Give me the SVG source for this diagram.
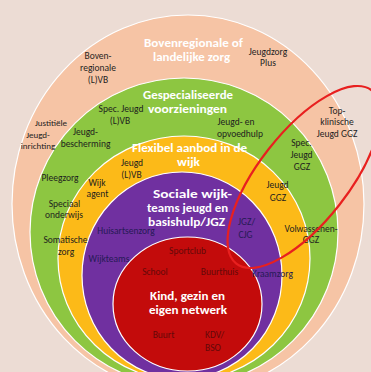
<svg xmlns="http://www.w3.org/2000/svg" width="371" height="372" viewBox="0 0 371 372">
<style>
.ring{stroke:#ffffff;stroke-width:1.2}
.t{font-family:Carlito,Lato,"Liberation Sans",sans-serif;font-weight:700;font-size:12.5px;fill:#ffffff;text-anchor:middle}
.l{font-family:Carlito,Lato,"Liberation Sans",sans-serif;font-size:9.5px;fill:#1e1e1e;text-anchor:middle}
.lp{fill:#261a55}
.lr{fill:#640909}
</style>
<rect x="0" y="0" width="371" height="372" fill="#ECDCD4"/>
<g id="ring-bovenregionaal">
<ellipse class="ring" cx="188" cy="204" rx="176" ry="189" fill="#F6C4A5"/>
</g>
<g id="ring-gespecialiseerd">
<ellipse class="ring" cx="184" cy="232" rx="154" ry="154" fill="#8DC641"/>
</g>
<g id="ring-flexibel">
<ellipse class="ring" cx="184" cy="258.4" rx="126" ry="122.4" fill="#FCBA18"/>
</g>
<g id="ring-sociaal">
<ellipse class="ring" cx="182" cy="275.4" rx="100" ry="103.4" fill="#7030A0"/>
</g>
<g id="ring-kind">
<ellipse class="ring" cx="187.5" cy="304" rx="74.5" ry="67" fill="#C30B0B"/>
</g>
<g id="labels-bovenregionaal">
<text class="t" x="193.5" y="47" textLength="99" lengthAdjust="spacingAndGlyphs">Bovenregionale of</text>
<text class="t" x="191.5" y="61" textLength="77" lengthAdjust="spacingAndGlyphs">landelijke zorg</text>
<text class="l" x="98" y="59">Boven-</text>
<text class="l" x="98" y="71">regionale</text>
<text class="l" x="98" y="83">(L)VB</text>
<text class="l" x="268" y="55">Jeugdzorg</text>
<text class="l" x="268" y="66">Plus</text>
<text class="l" x="51" y="126" style="font-size:9px">Justitiële</text>
<text class="l" x="38" y="137.5" style="font-size:9px">Jeugd-</text>
<text class="l" x="38" y="148.5" style="font-size:9px">inrichting</text>
<text class="l" x="337" y="114">Top-</text>
<text class="l" x="337" y="125">klinische</text>
<text class="l" x="337" y="137">Jeugd GGZ</text>
</g>
<g id="labels-gespecialiseerd">
<text class="t" x="188" y="98.5" textLength="90" lengthAdjust="spacingAndGlyphs">Gespecialiseerde</text>
<text class="t" x="187.5" y="112.5" textLength="79" lengthAdjust="spacingAndGlyphs">voorzieningen</text>
<text class="l" x="121" y="112">Spec. Jeugd</text>
<text class="l" x="120" y="124">(L)VB</text>
<text class="l" x="85.5" y="135">Jeugd-</text>
<text class="l" x="85.5" y="147">bescherming</text>
<text class="l" x="60" y="181">Pleegzorg</text>
<text class="l" x="64.5" y="207">Speciaal</text>
<text class="l" x="64" y="218">onderwijs</text>
<text class="l" x="65.5" y="243">Somatische</text>
<text class="l" x="66" y="255">zorg</text>
<text class="l" x="236" y="125">Jeugd- en</text>
<text class="l" x="240" y="137">opvoedhulp</text>
<text class="l" x="301.5" y="146">Spec.</text>
<text class="l" x="301.5" y="158">Jeugd</text>
<text class="l" x="302" y="170">GGZ</text>
<text class="l" x="311" y="232">Volwassenen-</text>
<text class="l" x="311" y="243">GGZ</text>
</g>
<g id="labels-flexibel">
<text class="t" x="189.5" y="152" textLength="115" lengthAdjust="spacingAndGlyphs">Flexibel aanbod in de</text>
<text class="t" x="188.5" y="166" textLength="23" lengthAdjust="spacingAndGlyphs">wijk</text>
<text class="l" x="132" y="166">Jeugd</text>
<text class="l" x="131.5" y="178">(L)VB</text>
<text class="l" x="97" y="186">Wijk</text>
<text class="l" x="97.5" y="197">agent</text>
<text class="l" x="277.5" y="188">Jeugd</text>
<text class="l" x="278" y="200.5">GGZ</text>
</g>
<g id="labels-sociaal">
<text class="t" x="192.5" y="198" textLength="79" lengthAdjust="spacingAndGlyphs">Sociale wijk-</text>
<text class="t" x="187.5" y="212" textLength="81" lengthAdjust="spacingAndGlyphs">teams jeugd en</text>
<text class="t" x="186.5" y="226" textLength="77" lengthAdjust="spacingAndGlyphs">basishulp/JGZ</text>
<text class="l lp" x="126" y="234">Huisartsenzorg</text>
<text class="l lp" x="109" y="261.5">Wijkteams</text>
<text class="l lp" x="246.5" y="225">JGZ/</text>
<text class="l lp" x="245.5" y="238">CJG</text>
<text class="l lp" x="272.5" y="277">Kraamzorg</text>
</g>
<g id="labels-kind">
<text class="t" x="187.5" y="299.5" textLength="75" lengthAdjust="spacingAndGlyphs">Kind, gezin en</text>
<text class="t" x="188" y="313.5" textLength="78" lengthAdjust="spacingAndGlyphs">eigen netwerk</text>
<text class="l lr" x="187.5" y="254">Sportclub</text>
<text class="l lr" x="155" y="275">School</text>
<text class="l lr" x="219.5" y="275">Buurthuis</text>
<text class="l lr" x="163.5" y="338">Buurt</text>
<text class="l lr" x="205" y="338" style="text-anchor:start">KDV/</text>
<text class="l lr" x="205" y="351" style="text-anchor:start">BSO</text>
</g>
<g id="connectors">
<ellipse id="ggz-highlight" cx="304" cy="177" rx="110" ry="45" transform="rotate(-52 304 177)" fill="none" stroke="#E8201F" stroke-width="2.2"/>
</g>
</svg>
